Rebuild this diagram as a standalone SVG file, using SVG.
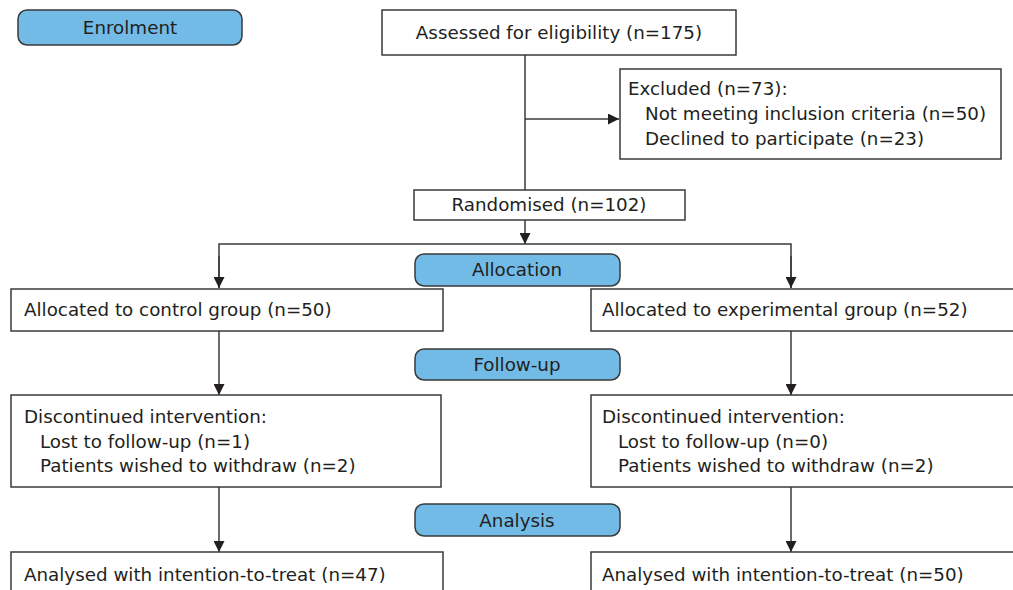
<svg xmlns="http://www.w3.org/2000/svg" width="1013" height="590" viewBox="0 0 1013 590">
<defs>
<marker id="arr" viewBox="0 0 10 10" refX="10" refY="5" markerWidth="11" markerHeight="11" markerUnits="userSpaceOnUse" orient="auto">
<path d="M0,0 L10,5 L0,10 z" fill="#231f20"/>
</marker>
<style>
.box{fill:#fff;stroke:#3a3a3a;stroke-width:1.5}
.pill{fill:#72bbe7;stroke:#3a3a3a;stroke-width:1.5}
.t{font-family:"DejaVu Sans",Arial,sans-serif;font-size:18.3px;fill:#231f20}
.c{text-anchor:middle}
.ln{fill:none;stroke:#3a3a3a;stroke-width:1.5}
</style>
</defs>
<rect width="1013" height="590" fill="#fff"/>
<g id="connectors">
<path class="ln" d="M525,55 V190"/>
<path class="ln" d="M525,119 H619" marker-end="url(#arr)"/>
<path class="ln" d="M525,220 V244" marker-end="url(#arr)"/>
<path class="ln" d="M219,288 V244 H791 V288"/>
<path class="ln" d="M219,256 V288" marker-end="url(#arr)"/>
<path class="ln" d="M791,256 V288" marker-end="url(#arr)"/>
<path class="ln" d="M219,331 V395" marker-end="url(#arr)"/>
<path class="ln" d="M791,331 V395" marker-end="url(#arr)"/>
<path class="ln" d="M219,487 V552" marker-end="url(#arr)"/>
<path class="ln" d="M791,487 V552" marker-end="url(#arr)"/>
</g>
<g id="enrolment"><rect class="pill" x="18" y="10" width="224" height="35" rx="9"/><text class="t c" x="130" y="34">Enrolment</text></g>
<g id="assessed"><rect class="box" x="382" y="10" width="354" height="45"/><text class="t c" x="559" y="39">Assessed for eligibility (n=175)</text></g>
<g id="excluded"><rect class="box" x="620" y="69" width="381" height="90"/>
<text class="t" x="628" y="95">Excluded (n=73):</text>
<text class="t" x="645" y="120">Not meeting inclusion criteria (n=50)</text>
<text class="t" x="645" y="145">Declined to participate (n=23)</text></g>
<g id="randomised"><rect class="box" x="414" y="190" width="271" height="30"/><text class="t c" x="549" y="211">Randomised (n=102)</text></g>
<g id="allocation"><rect class="pill" x="415" y="254" width="205" height="32" rx="9"/><text class="t c" x="517" y="276">Allocation</text></g>
<g id="control"><rect class="box" x="11" y="289" width="432" height="42"/><text class="t" x="24" y="316">Allocated to control group (n=50)</text></g>
<g id="experimental"><rect class="box" x="591" y="289" width="430" height="42"/><text class="t" x="602" y="316">Allocated to experimental group (n=52)</text></g>
<g id="followup"><rect class="pill" x="415" y="349" width="205" height="31" rx="9"/><text class="t c" x="517" y="371">Follow-up</text></g>
<g id="disc-control"><rect class="box" x="11" y="395" width="430" height="92"/>
<text class="t" x="24" y="423">Discontinued intervention:</text>
<text class="t" x="40" y="448">Lost to follow-up (n=1)</text>
<text class="t" x="40" y="472">Patients wished to withdraw (n=2)</text></g>
<g id="disc-exp"><rect class="box" x="591" y="395" width="430" height="92"/>
<text class="t" x="602" y="423">Discontinued intervention:</text>
<text class="t" x="618" y="448">Lost to follow-up (n=0)</text>
<text class="t" x="618" y="472">Patients wished to withdraw (n=2)</text></g>
<g id="analysis"><rect class="pill" x="415" y="504" width="205" height="32" rx="9"/><text class="t c" x="517" y="527">Analysis</text></g>
<g id="itt-control"><rect class="box" x="11" y="552" width="432" height="50"/><text class="t" x="24" y="581">Analysed with intention-to-treat (n=47)</text></g>
<g id="itt-exp"><rect class="box" x="591" y="552" width="430" height="50"/><text class="t" x="602" y="581">Analysed with intention-to-treat (n=50)</text></g>
</svg>
